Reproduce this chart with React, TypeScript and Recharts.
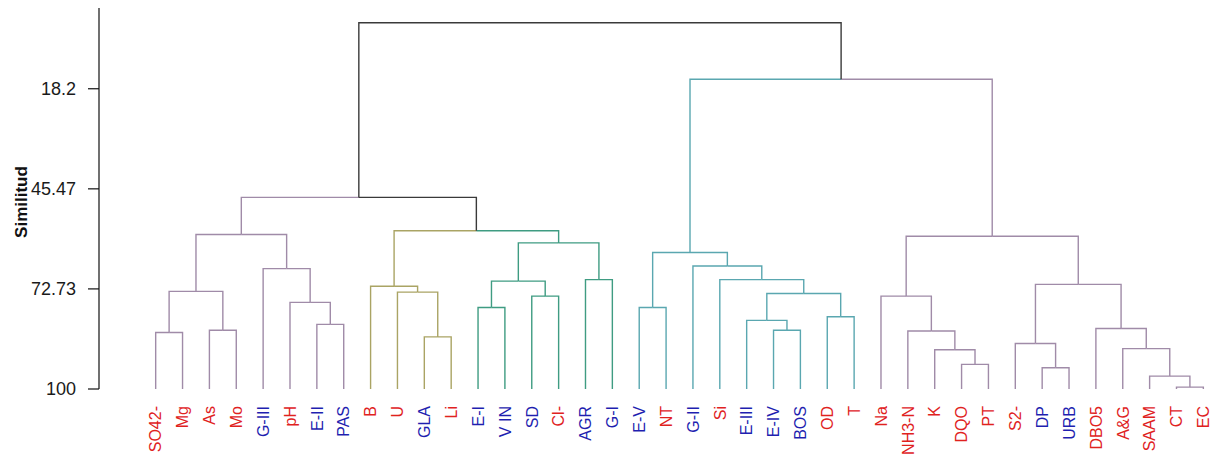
import { ComposedChart, Label, Line, XAxis, YAxis } from "recharts";

// leaves in plotted order (left to right)
const leafLabels = [
   "SO42-", "Mg", "As", "Mo", "G-III", "pH", "E-II", "PAS",
   "B", "U", "GLA", "Li",
   "E-I", "V IN", "SD", "Cl-", "AGR", "G-I",
   "E-V", "NT", "G-II", "Si", "E-III", "E-IV", "BOS", "OD", "T",
   "Na", "NH3-N", "K", "DQO", "PT", "S2-", "DP", "URB", "DBO5", "A&G", "SAAM", "CT", "EC",
];

// p = parametro (red), s = sitio / uso de suelo (blue)
const leafKinds = [
   "p", "p", "p", "p", "s", "p", "s", "s",
   "p", "p", "s", "p",
   "s", "s", "s", "p", "s", "s",
   "s", "p", "s", "p", "s", "s", "s", "p", "p",
   "p", "p", "p", "p", "p", "p", "s", "s", "p", "p", "p", "p", "p",
];

// cluster of each leaf, used to colour the branches
const leafGroups = [
   0, 0, 0, 0, 0, 0, 0, 0,
   1, 1, 1, 1,
   2, 2, 2, 2, 2, 2,
   3, 3, 3, 3, 3, 3, 3, 3, 3,
   4, 4, 4, 4, 4, 4, 4, 4, 4, 4, 4, 4, 4,
];

// hclust style merges: negative = leaf number, positive = earlier merge
const mergePairs: [number, number][] = [
   [-1, -2], [-3, -4], [1, 2], [-7, -8], [-6, 4], [-5, 5], [3, 6],
   [-11, -12], [-10, 8], [-9, 9],
   [-13, -14], [-15, -16], [11, 12], [-17, -18], [13, 14],
   [10, 15], [7, 16],
   [-19, -20], [-24, -25], [-23, 19], [-26, -27], [20, 21], [-22, 22], [-21, 23], [18, 24],
   [-31, -32], [-30, 26], [-29, 27], [-28, 28],
   [-34, -35], [-33, 30], [-39, -40], [-38, 32], [-37, 33], [-36, 34], [31, 35],
   [29, 36], [25, 37], [17, 38],
];

// similarity at each merge
const mergeHeights = [
   84.6, 84.0, 73.4, 82.4, 76.4, 67.2, 57.9,
   85.8, 73.6, 72.0,
   77.8, 74.7, 70.6, 70.2, 60.2,
   56.9, 47.8,
   77.8, 84.0, 81.3, 80.3, 74.0, 70.2, 66.5, 62.8,
   93.3, 89.3, 84.2, 74.7,
   94.2, 87.6, 99.5, 96.5, 89.0, 83.5, 71.5,
   58.4, 15.6, 0.2,
];

const yTicks = [18.2, 45.47, 72.73, 100];

const GROUP_COLORS = ["#a08ba8", "#aaa464", "#3f9c82", "#5aa7b0", "#a08ba8"];
const MIXED_COLOR = "#3a3a3a";
const LABEL_COLORS: Record<string, string> = { p: "#e0221e", s: "#1f1fb0" };
const FONT = '"Liberation Sans", Arial, sans-serif';

type Node = { x: number; h: number; groups: number[] };
type Edge = { color: string; points: { x: number; y: number }[] };

// walk the merges and build one edge per parent -> child link
function buildEdges(): Edge[] {
   const nodes: Node[] = [];
   const edges: Edge[] = [];
   const get = (i: number): Node =>
      i < 0 ? { x: -i, h: 100, groups: [leafGroups[-i - 1]] } : nodes[i - 1];

   mergePairs.forEach(([a, b], k) => {
      const h = mergeHeights[k];
      const A = get(a);
      const B = get(b);
      const x = (A.x + B.x) / 2;
      [A, B].forEach((c) => {
         const uniq = Array.from(new Set(c.groups));
         edges.push({
            color: uniq.length === 1 ? GROUP_COLORS[uniq[0]] : MIXED_COLOR,
            points: [
               { x, y: h },
               { x: c.x, y: h },
               { x: c.x, y: c.h },
            ],
         });
      });
      nodes.push({ x, h, groups: [...A.groups, ...B.groups] });
   });
   return edges;
}

const edges = buildEdges();
const leafTicks = leafLabels.map((_, i) => i + 1);

const LeafTick = ({ x, y, payload }: any) => {
   const i = payload.value - 1;
   return (
      <text
         transform={`translate(${x},${y + 17}) rotate(-90)`}
         textAnchor="end"
         dy="0.36em"
         fontSize={16}
         fontFamily={FONT}
         fill={LABEL_COLORS[leafKinds[i]]}
      >
         {leafLabels[i]}
      </text>
   );
};

export default function App() {
   return (
      <div style={{ position: "absolute", left: 0, top: 0, background: "#fff" }}>
         <ComposedChart
            width={1221}
            height={457}
            margin={{ top: 8, right: 1, bottom: 0, left: 0 }}
         >
            <XAxis
               type="number"
               dataKey="x"
               domain={[-1.11, 40.62]}
               allowDataOverflow
               ticks={leafTicks}
               interval={0}
               axisLine={false}
               tickLine={false}
               tickSize={0}
               tickMargin={0}
               height={68}
               tick={<LeafTick />}
            />
            <YAxis
               type="number"
               dataKey="y"
               domain={[-3.8, 100]}
               allowDataOverflow
               reversed
               ticks={yTicks}
               interval={0}
               width={99}
               tickSize={11}
               tickMargin={12}
               axisLine={{ stroke: "#111", strokeWidth: 1.2 }}
               tickLine={{ stroke: "#111", strokeWidth: 1.2 }}
               tick={{ fontSize: 18, fill: "#1a1a1a", fontFamily: FONT }}
               tickFormatter={(v: number) => String(v)}
            >
               <Label
                  content={() => (
                     <text
                        transform="translate(21,202) rotate(-90)"
                        textAnchor="middle"
                        dominantBaseline="central"
                        fontSize={17}
                        fontWeight="bold"
                        fontFamily={FONT}
                        fill="#111"
                     >
                        Similitud
                     </text>
                  )}
               />
            </YAxis>
            {edges.map((e, i) => (
               <Line
                  key={`edge-${i}`}
                  data={e.points}
                  dataKey="y"
                  type="linear"
                  stroke={e.color}
                  strokeWidth={1.4}
                  dot={false}
                  activeDot={false}
                  isAnimationActive={false}
               />
            ))}
         </ComposedChart>
      </div>
   );
}
